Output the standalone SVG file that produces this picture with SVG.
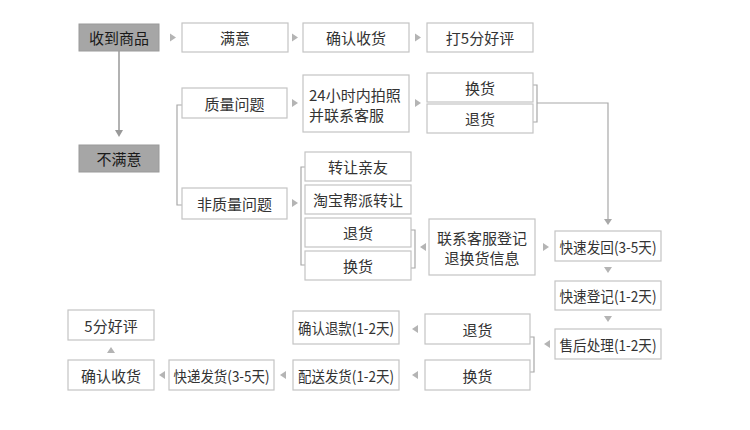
<svg xmlns="http://www.w3.org/2000/svg" width="750" height="430" viewBox="0 0 750 430">
<style>
.b{fill:#fff;stroke:#c4c4c4;stroke-width:1.2}
.g{fill:#a6a6a6;stroke:#9a9a9a;stroke-width:1}
text{font-family:"Noto Sans CJK SC","Noto Sans",sans-serif;font-size:15px;fill:#333;text-anchor:middle;dominant-baseline:central}
.gt{fill:#1a1a1a}
.c{fill:none;stroke:#a8a8a8;stroke-width:1.2}
.t{fill:#b4b4b4}
</style>
<defs>
<path id="tr" class="t" d="M0,-4 L6,0 L0,4Z"/>
</defs>
<rect width="750" height="430" fill="#fff"/>
<g id="connectors">
<path class="c" d="M119,51 V131" style="stroke:#999;stroke-width:1.5"/>
<path d="M115,130 L123,130 L119,137Z" fill="#999"/>
<path class="c" d="M182,105 H177 V205 H182"/>
<path class="c" d="M305,167 H301 V265 H305"/>
<path class="c" d="M533,85 H537 V122 H533"/>
<path class="c" d="M537,103 H608 V220"/>
<path d="M604,219 L612,219 L608,225Z" fill="#a8a8a8"/>
<path class="c" d="M411,230 H415 V268 H411"/>
<path class="c" d="M530,337 H534 V372 H530"/>
<use href="#tr" transform="translate(170,37.5)"/>
<use href="#tr" transform="translate(292,37.5)"/>
<use href="#tr" transform="translate(415,37.5)"/>
<use href="#tr" transform="translate(292,103)"/>
<use href="#tr" transform="translate(415,103)"/>
<use href="#tr" transform="translate(292,203)"/>
<use href="#tr" transform="translate(426,247) rotate(180)"/>
<use href="#tr" transform="translate(543,247)"/>
<use href="#tr" transform="translate(608,267) rotate(90)"/>
<use href="#tr" transform="translate(608,316) rotate(90)"/>
<use href="#tr" transform="translate(550,344) rotate(180)"/>
<use href="#tr" transform="translate(418,329) rotate(180)"/>
<use href="#tr" transform="translate(418,375) rotate(180)"/>
<use href="#tr" transform="translate(286,375) rotate(180)"/>
<use href="#tr" transform="translate(165,375) rotate(180)"/>
<use href="#tr" transform="translate(111,353) rotate(-90)"/>
</g>
<g id="n-receive"><rect class="g" x="79" y="24" width="80" height="27"/><text class="gt" x="119" y="37.5">收到商品</text></g>
<g id="n-satisfied"><rect class="b" x="182" y="23" width="106" height="29"/><text x="235" y="37.5">满意</text></g>
<g id="n-confirm1"><rect class="b" x="303" y="23" width="106" height="29"/><text x="356" y="37.5">确认收货</text></g>
<g id="n-rate5"><rect class="b" x="427" y="23" width="106" height="29"/><text x="480" y="37.5">打5分好评</text></g>
<g id="n-unsatisfied"><rect class="g" x="79" y="145" width="80" height="27"/><text class="gt" x="119" y="158.5">不满意</text></g>
<g id="n-quality"><rect class="b" x="182" y="88" width="105" height="30"/><text x="234.5" y="103">质量问题</text></g>
<g id="n-nonquality"><rect class="b" x="182" y="188" width="105" height="31"/><text x="234.5" y="203.5">非质量问题</text></g>
<g id="n-photo"><rect class="b" x="303" y="75" width="106" height="57"/><text x="309" y="94" style="text-anchor:start">24小时内拍照</text><text x="309" y="114" style="text-anchor:start">并联系客服</text></g>
<g id="n-exchange1"><rect class="b" x="427" y="73" width="106" height="29"/><text x="480" y="87.5">换货</text></g>
<g id="n-return1"><rect class="b" x="427" y="104" width="106" height="29"/><text x="480" y="118.5">退货</text></g>
<g id="n-friend"><rect class="b" x="305" y="152" width="106" height="29"/><text x="358" y="166.5">转让亲友</text></g>
<g id="n-taobao"><rect class="b" x="305" y="185" width="106" height="29"/><text x="358" y="199.5">淘宝帮派转让</text></g>
<g id="n-return2"><rect class="b" x="305" y="218" width="106" height="29"/><text x="358" y="232.5">退货</text></g>
<g id="n-exchange2"><rect class="b" x="305" y="251" width="106" height="29"/><text x="358" y="265.5">换货</text></g>
<g id="n-contact"><rect class="b" x="429" y="219" width="106" height="56"/><text x="482" y="237.5">联系客服登记</text><text x="482" y="257.5">退换货信息</text></g>
<g id="n-sendback"><rect class="b" x="555" y="231" width="106" height="30"/><text x="608" y="246" textLength="97" lengthAdjust="spacingAndGlyphs">快速发回(3-5天)</text></g>
<g id="n-register"><rect class="b" x="555" y="281" width="106" height="29"/><text x="608" y="295.5" textLength="97" lengthAdjust="spacingAndGlyphs">快速登记(1-2天)</text></g>
<g id="n-aftersale"><rect class="b" x="555" y="329" width="106" height="30"/><text x="608" y="344" textLength="97" lengthAdjust="spacingAndGlyphs">售后处理(1-2天)</text></g>
<g id="n-return3"><rect class="b" x="425" y="314" width="105" height="30"/><text x="477.5" y="329">退货</text></g>
<g id="n-exchange3"><rect class="b" x="425" y="360" width="105" height="30"/><text x="477.5" y="375">换货</text></g>
<g id="n-refund"><rect class="b" x="293" y="311" width="106" height="33"/><text x="346" y="327.5" textLength="96" lengthAdjust="spacingAndGlyphs">确认退款(1-2天)</text></g>
<g id="n-deliver"><rect class="b" x="293" y="360" width="106" height="30"/><text x="346" y="375" textLength="96" lengthAdjust="spacingAndGlyphs">配送发货(1-2天)</text></g>
<g id="n-express"><rect class="b" x="169" y="360" width="105" height="30"/><text x="221.5" y="375" textLength="96" lengthAdjust="spacingAndGlyphs">快递发货(3-5天)</text></g>
<g id="n-confirm2"><rect class="b" x="68" y="360" width="86" height="30"/><text x="111" y="375">确认收货</text></g>
<g id="n-good5"><rect class="b" x="68" y="310" width="86" height="30"/><text x="111" y="325">5分好评</text></g>
</svg>
